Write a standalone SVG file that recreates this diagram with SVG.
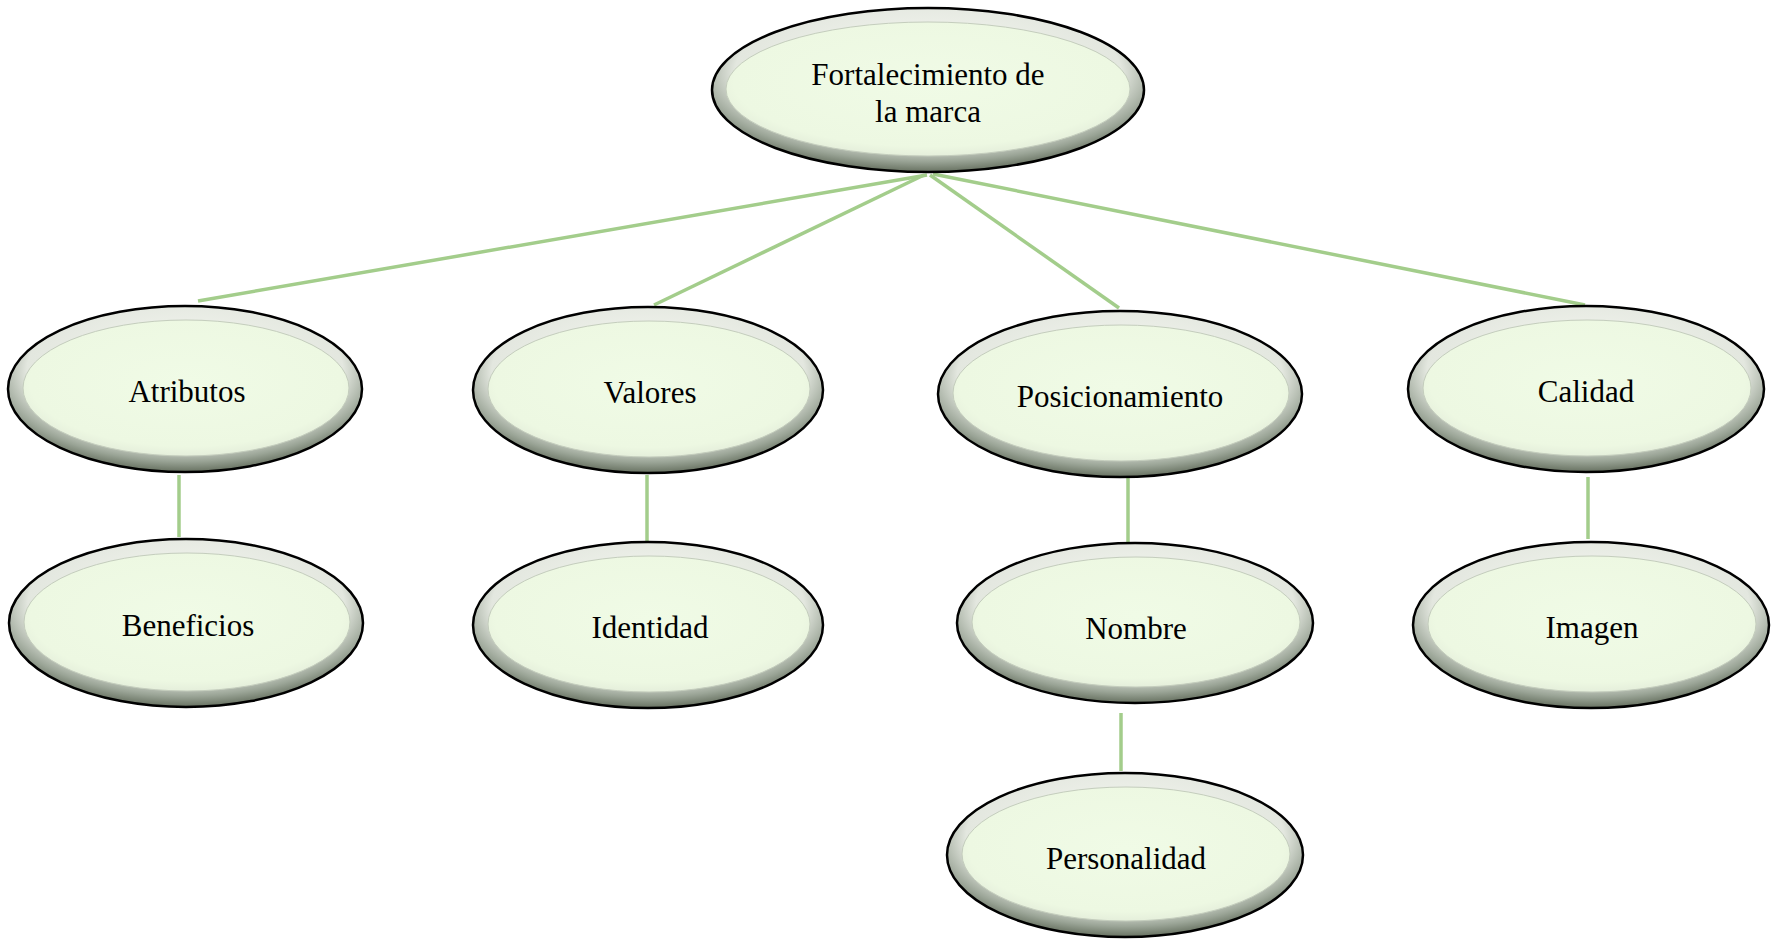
<svg xmlns="http://www.w3.org/2000/svg" width="1773" height="940" viewBox="0 0 1773 940">
  <defs>
    <!-- bevelled rim: light at top, darker towards sides and bottom -->
    <radialGradient id="rim" cx="50%" cy="42%" r="62%" fx="50%" fy="30%">
      <stop offset="0" stop-color="#f6f8f2"/>
      <stop offset="0.72" stop-color="#e3e7df"/>
      <stop offset="0.86" stop-color="#9aa496"/>
      <stop offset="1" stop-color="#47513f"/>
    </radialGradient>
    <radialGradient id="face" cx="50%" cy="45%" r="60%">
      <stop offset="0" stop-color="#f0fbe6"/>
      <stop offset="0.8" stop-color="#edf8e2"/>
      <stop offset="1" stop-color="#dfe8d6"/>
    </radialGradient>
  </defs>
  <style>
    .outer { fill: url(#rim); stroke: #000; stroke-width: 2.5; }
    .inner { fill: url(#face); stroke: #c4cdbd; stroke-width: 1; }
    .label { font-family: "Liberation Serif", "Times New Roman", serif; font-size: 31px; fill: #000; text-anchor: middle; }
    .link { stroke: #a3cd8b; stroke-width: 3.5; fill: none; stroke-linecap: butt; }
  </style>
  <rect width="1773" height="940" fill="#ffffff"/>

  <g id="connectors">
    <line class="link" x1="927" y1="175" x2="198" y2="301"/>
    <line class="link" x1="924" y1="175" x2="654" y2="305"/>
    <line class="link" x1="930" y1="175" x2="1119" y2="308"/>
    <line class="link" x1="933" y1="174" x2="1585" y2="305"/>
    <line class="link" x1="179" y1="475" x2="179" y2="537"/>
    <line class="link" x1="647" y1="475" x2="647" y2="543"/>
    <line class="link" x1="1128" y1="477" x2="1128" y2="545"/>
    <line class="link" x1="1121" y1="713" x2="1121" y2="771"/>
    <line class="link" x1="1588" y1="477" x2="1588" y2="539"/>
  </g>

  <g id="fortalecimiento">
    <ellipse class="outer" cx="928" cy="90" rx="216" ry="82"/>
    <ellipse class="inner" cx="928" cy="89" rx="202" ry="67"/>
    <text class="label" x="928" y="85">Fortalecimiento de</text>
    <text class="label" x="928" y="122">la marca</text>
  </g>

  <g id="atributos">
    <ellipse class="outer" cx="185" cy="389" rx="177" ry="83"/>
    <ellipse class="inner" cx="186" cy="388" rx="163" ry="68"/>
    <text class="label" x="187" y="402">Atributos</text>
  </g>

  <g id="valores">
    <ellipse class="outer" cx="648" cy="390" rx="175" ry="83"/>
    <ellipse class="inner" cx="649" cy="389" rx="161" ry="68"/>
    <text class="label" x="650" y="403">Valores</text>
  </g>

  <g id="posicionamiento">
    <ellipse class="outer" cx="1120" cy="394" rx="182" ry="83"/>
    <ellipse class="inner" cx="1121" cy="393" rx="168" ry="68"/>
    <text class="label" x="1120" y="407">Posicionamiento</text>
  </g>

  <g id="calidad">
    <ellipse class="outer" cx="1586" cy="389" rx="178" ry="83"/>
    <ellipse class="inner" cx="1587" cy="388" rx="164" ry="68"/>
    <text class="label" x="1586" y="402">Calidad</text>
  </g>

  <g id="beneficios">
    <ellipse class="outer" cx="186" cy="623" rx="177" ry="84"/>
    <ellipse class="inner" cx="187" cy="622" rx="163" ry="69"/>
    <text class="label" x="188" y="636">Beneficios</text>
  </g>

  <g id="identidad">
    <ellipse class="outer" cx="648" cy="625" rx="175" ry="83"/>
    <ellipse class="inner" cx="649" cy="624" rx="161" ry="68"/>
    <text class="label" x="650" y="638">Identidad</text>
  </g>

  <g id="nombre">
    <ellipse class="outer" cx="1135" cy="623" rx="178" ry="80"/>
    <ellipse class="inner" cx="1136" cy="622" rx="164" ry="65"/>
    <text class="label" x="1136" y="639">Nombre</text>
  </g>

  <g id="imagen">
    <ellipse class="outer" cx="1591" cy="625" rx="178" ry="83"/>
    <ellipse class="inner" cx="1592" cy="624" rx="164" ry="68"/>
    <text class="label" x="1592" y="638">Imagen</text>
  </g>

  <g id="personalidad">
    <ellipse class="outer" cx="1125" cy="855" rx="178" ry="82"/>
    <ellipse class="inner" cx="1126" cy="854" rx="164" ry="67"/>
    <text class="label" x="1126" y="869">Personalidad</text>
  </g>
</svg>
